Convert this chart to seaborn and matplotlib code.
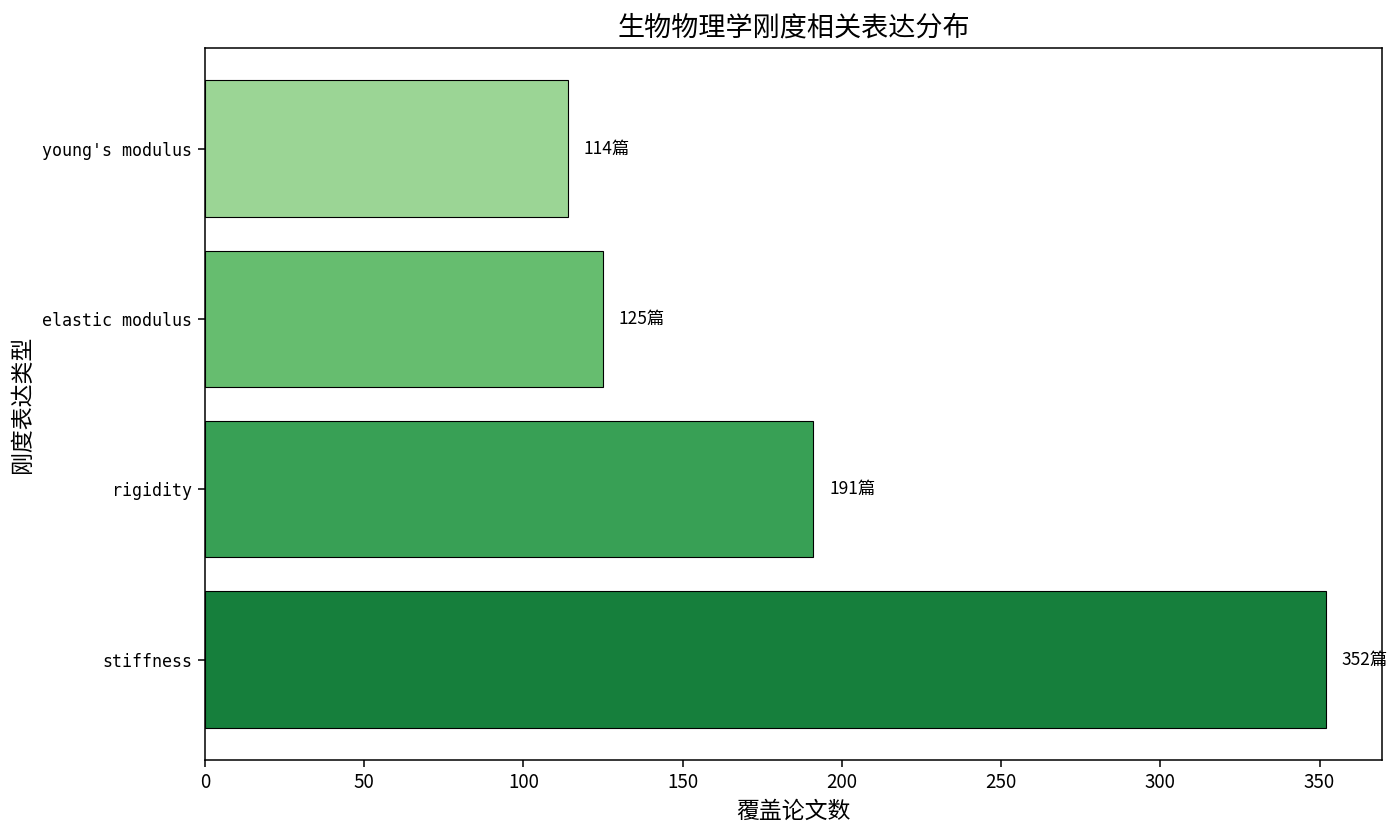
import pandas as pd
import seaborn as sns
import matplotlib.pyplot as plt

# data
terms = ["young's modulus", "elastic modulus", "rigidity", "stiffness"]
papers = [114, 125, 191, 352]
bar_colors = ["#9bd595", "#66bd6f", "#38a055", "#167f3c"]

df = pd.DataFrame({"term": terms, "papers": papers})

sns.set_style("ticks")
plt.rcParams['font.family'] = ['Noto Sans CJK SC', 'DejaVu Sans']
plt.rcParams['axes.unicode_minus'] = False
for key in ['text.color', 'axes.labelcolor', 'xtick.color', 'ytick.color', 'axes.edgecolor']:
    plt.rcParams[key] = 'black'

fig = plt.figure(figsize=(14, 8.35), dpi=100)
ax = fig.add_axes([0.1464, 0.0898, 0.8407, 0.8527])

sns.barplot(data=df, x="papers", y="term", hue="term", palette=bar_colors,
            orient="h", legend=False, edgecolor="black", linewidth=0.8,
            width=0.8, saturation=1, ax=ax)

for i, v in enumerate(papers):
    ax.text(v + 5, i, f"{v}篇", va="center", ha="left", fontsize=12.5)

ax.set_xlim(0, max(papers) * 1.05)
ax.set_ylim(3.59, -0.59)
for s in ax.spines.values():
    s.set_visible(True)
    s.set_color("black")
    s.set_linewidth(1.1)

ax.set_title("生物物理学刚度相关表达分布", fontsize=19.5, pad=9)
ax.set_xlabel("覆盖论文数", fontsize=16.5, labelpad=5)
ax.set_ylabel("刚度表达类型", fontsize=16.5, labelpad=6)
ax.tick_params(axis="x", labelsize=13.5, length=5, width=1.1)
ax.tick_params(axis="y", length=5, width=1.1, pad=4)
for lab in ax.get_yticklabels():
    lab.set_fontfamily("DejaVu Sans Mono")
    lab.set_fontsize(12)

fig.savefig("out.png", dpi=100)
